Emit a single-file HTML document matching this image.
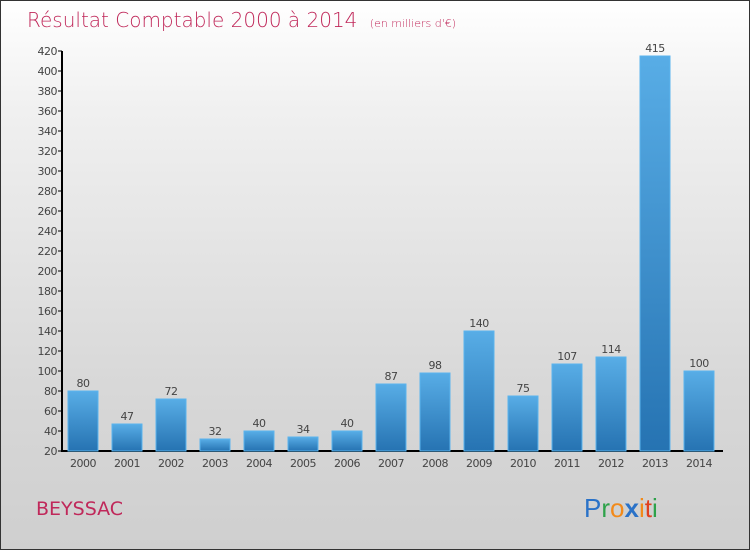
<!DOCTYPE html>
<html><head><meta charset="utf-8"><style>
body{margin:0}
#c{position:relative;width:748px;height:548px;border:1px solid #333;background:linear-gradient(#fff,#f0f0f0 20%,#d8d8d8 70%,#cfcfcf);font-family:"DejaVu Sans","Liberation Sans",sans-serif;overflow:hidden}
</style></head><body>
<div id="c">
<svg width="748" height="548" xmlns="http://www.w3.org/2000/svg" id="s">
<defs><linearGradient id="g" x1="0" y1="0" x2="0" y2="1"><stop offset="0" stop-color="#58ade6"/><stop offset="1" stop-color="#2673b2"/></linearGradient></defs>
<text x="26" y="26" font-size="20" fill="#c0285a" font-weight="300">Résultat Comptable 2000 à 2014 <tspan font-size="11" dx="6">(en milliers d'€)</tspan></text>
<text x="35" y="514" font-size="19" fill="#c0285a">BEYSSAC</text>
<g font-size="26" font-family="'Liberation Sans',sans-serif"><text x="583" y="516"><tspan fill="#2a72c8">P</tspan><tspan fill="#2ea24a">r</tspan><tspan fill="#f28a1a">o</tspan><tspan fill="#2a72c8" font-weight="bold">x</tspan><tspan fill="#f28a1a">i</tspan><tspan fill="#e04020">t</tspan><tspan fill="#2ea24a">i</tspan></text></g>
<g id="axes"></g><g id="bars"></g>
</svg></div>
<script>
const years=["2000","2001","2002","2003","2004","2005","2006","2007","2008","2009","2010","2011","2012","2013","2014"];
const values=[80,47,72,32,40,34,40,87,98,140,75,107,114,415,100];
const yTicks=[20,40,60,80,100,120,140,160,180,200,220,240,260,280,300,320,340,360,380,400,420];
const NS="http://www.w3.org/2000/svg";
const y=v=>450-(v-20)*(400/400);
const x=i=>82+i*44;
const ax=document.getElementById('axes'),bg=document.getElementById('bars');
function mk(t,a,p){const e=document.createElementNS(NS,t);for(const k in a)e.setAttribute(k,a[k]);p.appendChild(e);return e;}
let l=mk('line',{x1:61,y1:50,x2:61,y2:450,stroke:'#000','stroke-width':2},ax);


l=mk('line',{x1:60,y1:450,x2:722,y2:450,stroke:'#000','stroke-width':2},ax);


yTicks.forEach(v=>{mk('line',{x1:57,y1:y(v),x2:61,y2:y(v),stroke:'#000'},ax);
const t=mk('text',{x:56,y:y(v)+4,'font-size':11,fill:'#444','text-anchor':'end','letter-spacing':'-0.5'},ax);t.textContent=v;

});
years.forEach((yr,i)=>{const v=values[i];
const r=mk('rect',{x:x(i)-15,y:y(v),width:30,height:450-y(v),fill:'url(#g)',stroke:'#5ab4ee','stroke-width':1},bg);


const t=mk('text',{x:x(i),y:y(v)-4,'font-size':11,fill:'#444','text-anchor':'middle','letter-spacing':'-0.5'},bg);t.textContent=v;


const tl=mk('text',{x:x(i),y:466,'font-size':11,fill:'#444','text-anchor':'middle','letter-spacing':'-0.5'},ax);tl.textContent=yr;

});
</script>
</body></html>
